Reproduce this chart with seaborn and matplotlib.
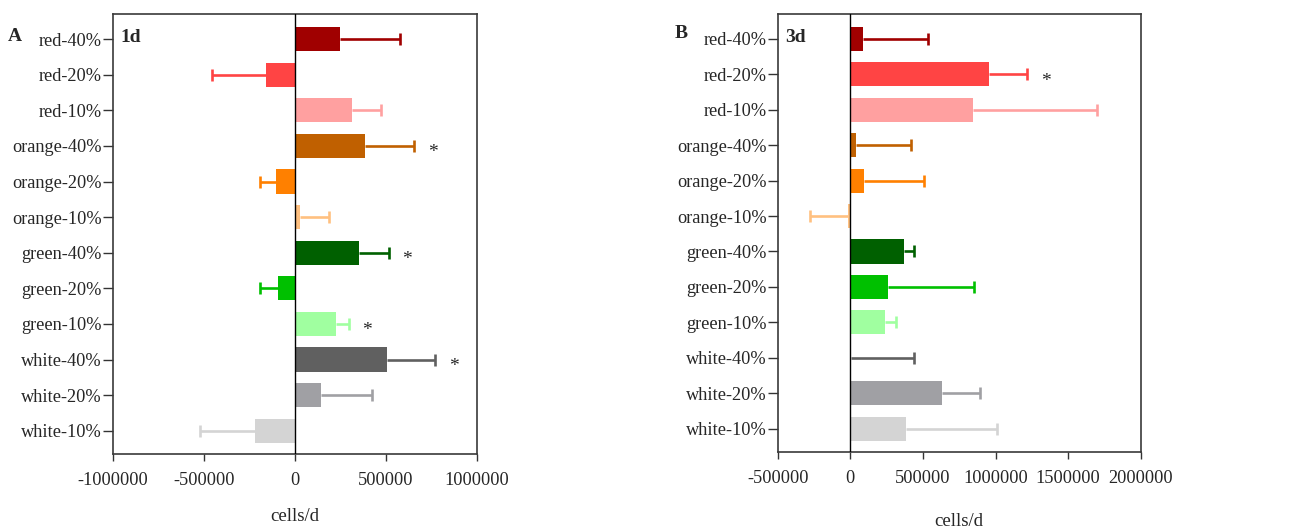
import numpy as np
import pandas as pd
import seaborn as sns
import matplotlib.pyplot as plt

# categories, top to bottom
groups = ['red-40%', 'red-20%', 'red-10%', 'orange-40%', 'orange-20%', 'orange-10%',
          'green-40%', 'green-20%', 'green-10%', 'white-40%', 'white-20%', 'white-10%']
bar_colors = ['#A00000', '#FF4444', '#FFA0A0', '#C06000', '#FF8000', '#FFC080',
              '#006000', '#00C000', '#A0FFA0', '#606060', '#A0A0A4', '#D4D4D4']

# day 1
day1_mean = [248000, -160000, 312000, 387000, -105000, 27000,
             354000, -95000, 226000, 507000, 145000, -220000]
day1_err = [330000, 297000, 158000, 265000, 86000, 158000,
            160000, 98000, 68000, 261000, 277000, 303000]
day1_star = [False, False, False, True, False, False,
             True, False, True, True, False, False]

# day 3
day3_mean = [87000, 953000, 845000, 41000, 94000, -16000,
             370000, 262000, 241000, 5000, 634000, 384000]
day3_err = [450000, 262000, 856000, 375000, 416000, 259000,
            69000, 590000, 76000, 430000, 259000, 624000]
day3_star = [False, True, False, False, False, False,
             False, False, False, False, False, False]

sns.set_theme(style='ticks')
plt.rcParams['font.family'] = ['Liberation Serif', 'DejaVu Serif']
plt.rcParams['font.size'] = 13


def draw_panel(ax, means, errs, stars, xlim, xticks, day, labelpad):
    df = pd.DataFrame({'group': groups, 'value': means})
    sns.barplot(data=df, x='value', y='group', hue='group', palette=bar_colors,
                order=groups, hue_order=groups, legend=False, orient='h',
                width=0.68, linewidth=0, saturation=1, errorbar=None, ax=ax)
    # one-sided error bars, same colour as the bar
    pos = np.arange(len(groups))
    for i, (m, e, c) in enumerate(zip(means, errs, bar_colors)):
        end = m - e if m < 0 else m + e
        ax.plot([m, end], [pos[i], pos[i]], color=c, lw=1.9, zorder=0.5,
                solid_capstyle='butt')
        ax.plot([end], [pos[i]], marker='|', ms=8, mew=1.9, color=c, zorder=0.5)
        if stars[i]:
            ax.annotate('*', xy=(end, pos[i]), xytext=(10, -5),
                        textcoords='offset points', ha='left', va='center',
                        fontsize=14)
    ax.axvline(0, color='black', lw=1, zorder=3)
    ax.set_xlim(*xlim)
    ax.set_ylim(11.65, -0.7)
    ax.set_xticks(xticks)
    ax.set_xticklabels([str(t) for t in xticks])
    ax.set_ylabel('')
    ax.set_xlabel('cells/d', fontsize=13.5, labelpad=labelpad)
    ax.tick_params(axis='y', length=7, width=1, pad=1, labelsize=13.2, color='#333333')
    ax.tick_params(axis='x', length=5, width=1, pad=8, labelsize=13.2, color='#333333')
    for s in ax.spines.values():
        s.set_visible(True)
        s.set_color('#3a3a3a')
        s.set_linewidth(1.2)
    ax.text(0.02, 0.965, day, transform=ax.transAxes, fontsize=14,
            fontweight='bold', ha='left', va='top')


fig = plt.figure(figsize=(12.9, 5.3), dpi=100)
axA = fig.add_axes([0.0876, 0.1434, 0.2822, 0.830])
axB = fig.add_axes([0.6029, 0.1477, 0.2814, 0.8258])

draw_panel(axA, day1_mean, day1_err, day1_star, (-1000000, 1000000),
           [-1000000, -500000, 0, 500000, 1000000], '1d', 14)
draw_panel(axB, day3_mean, day3_err, day3_star, (-500000, 2000000),
           [-500000, 0, 500000, 1000000, 1500000, 2000000], '3d', 19)

fig.text(0.006, 0.932, 'A', fontsize=14, fontweight='bold', ha='left', va='center')
fig.text(0.523, 0.937, 'B', fontsize=14, fontweight='bold', ha='left', va='center')

fig.savefig('out.png', dpi=100)
